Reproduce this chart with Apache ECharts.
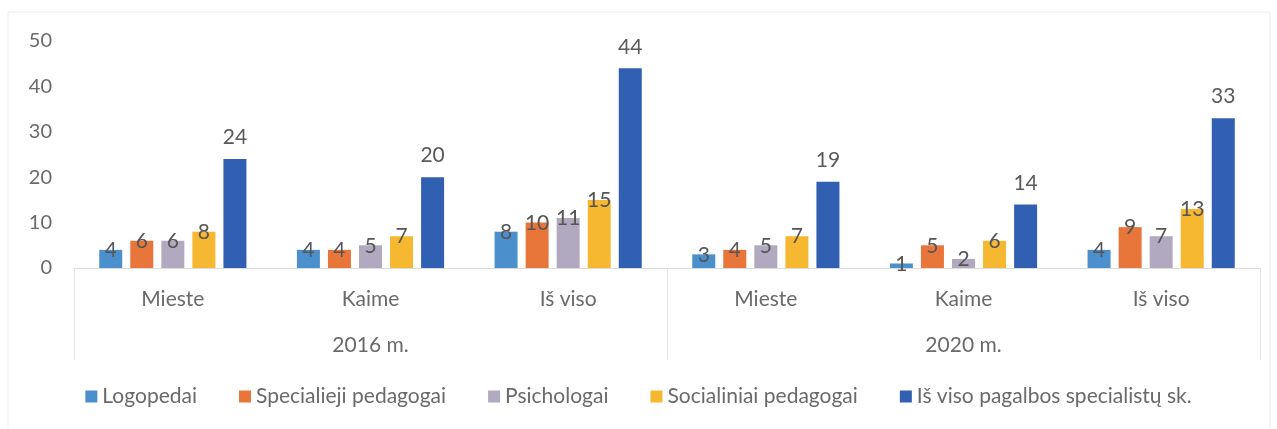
<!DOCTYPE html>
<html><head><meta charset="utf-8">
<script src="https://cdn.jsdelivr.net/npm/echarts@6/dist/echarts.min.js"></script>
<style>html,body{margin:0;padding:0;background:#fff}#c{width:1277px;height:429px}</style>
</head><body><div id="c"></div>
<script>
const categories = ['Mieste','Kaime','Iš viso','Mieste','Kaime','Iš viso'];
const years = ['2016 m.','2020 m.'];
const seriesNames = ['Logopedai','Specialieji pedagogai','Psichologai','Socialiniai pedagogai','Iš viso pagalbos specialistų sk.'];
const logopedai = [4,4,8,3,1,4];
const specialieji = [6,4,10,4,5,9];
const psichologai = [6,5,11,5,2,7];
const socialiniai = [8,7,15,7,6,13];
const isViso = [24,20,44,19,14,33];
const yTicks = [0,10,20,30,40,50];
const colors = ['#4b90cd','#e8763a','#b1a9bf','#f5b830','#3160b2'];

const font = 'Lato, "Open Sans", sans-serif';
const dataArr = [logopedai, specialieji, psichologai, socialiniai, isViso];
const chart = echarts.init(document.getElementById('c'));
chart.setOption({
  animation:false,
  textStyle:{fontFamily:font},
  color:colors,
  graphic:[{
    type:'rect', shape:{x:8,y:12,width:1262,height:430},
    style:{fill:'none',stroke:'#ececec',lineWidth:1}
  }],
  grid:{left:74,right:17,top:41,bottom:161},
  legend:{
    bottom:17, left:'center', itemWidth:12, itemHeight:12, itemGap:42,
    icon:'rect',
    textStyle:{fontSize:21,color:'#6a6a6a',fontFamily:font},
    data:seriesNames
  },
  xAxis:[{
    type:'category', data:categories,
    axisLine:{lineStyle:{color:'#dcdcdc'}},
    axisTick:{show:false},
    axisLabel:{fontSize:21,color:'#6a6a6a',margin:21}
  },{
    type:'category', data:years, position:'bottom',
    axisLine:{show:false},
    axisTick:{show:true,length:92,lineStyle:{color:'#e6e6e6'}},
    axisLabel:{fontSize:21,color:'#6a6a6a',margin:67}
  }],
  yAxis:{
    type:'value', min:yTicks[0], max:yTicks[yTicks.length-1], interval:10,
    axisLine:{show:false}, axisTick:{show:false}, splitLine:{show:false},
    axisLabel:{fontSize:20,color:'#6a6a6a',margin:22}
  },
  series: seriesNames.map((n,i)=>({
    name:n, type:'bar', xAxisIndex:0, data:dataArr[i],
    barWidth:23, barGap:'35%', barCategoryGap:'26%',
    label:{
      show:true, position:'top',
      distance: i===4 ? 11 : -11,
      fontSize:21, color: i===4 ? '#5a5a5a' : '#555555',
      fontFamily:font
    }
  }))
});
</script></body></html>
